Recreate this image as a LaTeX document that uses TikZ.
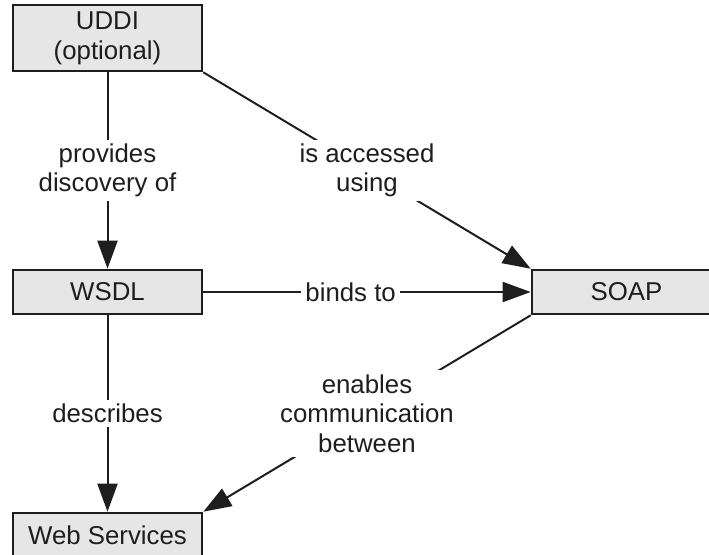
\documentclass[tikz,border=0pt]{standalone}
\usepackage{fontspec}
\setmainfont{Liberation Sans}
\usepackage{tikz}
\usetikzlibrary{shapes, arrows.meta, positioning}
\definecolor{boxgray}{HTML}{E6E6E6}
\definecolor{inkgray}{HTML}{1E1E1E}
\tikzstyle{concept} = [rectangle, minimum width=94.5pt, minimum height=22pt, inner sep=0pt, align=center, draw=inkgray, line width=1.3pt, fill=boxgray, text=inkgray]
\tikzstyle{relation} = [rectangle, inner sep=2pt, align=center, fill=white, text=inkgray]
\tikzstyle{link} = [draw=inkgray, line width=1pt, -{Triangle[length=14pt, width=10pt]}]

\begin{document}
\begin{tikzpicture}[node distance=127pt, font=\fontsize{12.9pt}{14.8pt}\selectfont]
\clip (0,0) rectangle (354.5pt,-277pt);
\node (uddi) [concept, minimum height=33pt] at (53.75pt,-19pt) {UDDI\\(optional)};
\node (wsdl) [concept, below of=uddi, yshift=0pt] {WSDL};
\node (soap) [concept, right of=wsdl, xshift=132.5pt] {SOAP};
\node (websvc) [concept, below of=wsdl, yshift=5.5pt] {Web Services};

\draw[link] (uddi) -- node[relation] {provides\\discovery of} (wsdl);
\draw[link] (uddi.south east) -- node[relation] {is accessed\\using} (soap.north west);
\draw[link] (wsdl) -- node[relation, pos=0.45] {binds to} (soap);
\draw[link] (wsdl) -- node[relation] {describes} (websvc);
\draw[link] (soap.south west) -- node[relation] {enables\\communication\\between} (websvc.north east);
\end{tikzpicture}
\end{document}
